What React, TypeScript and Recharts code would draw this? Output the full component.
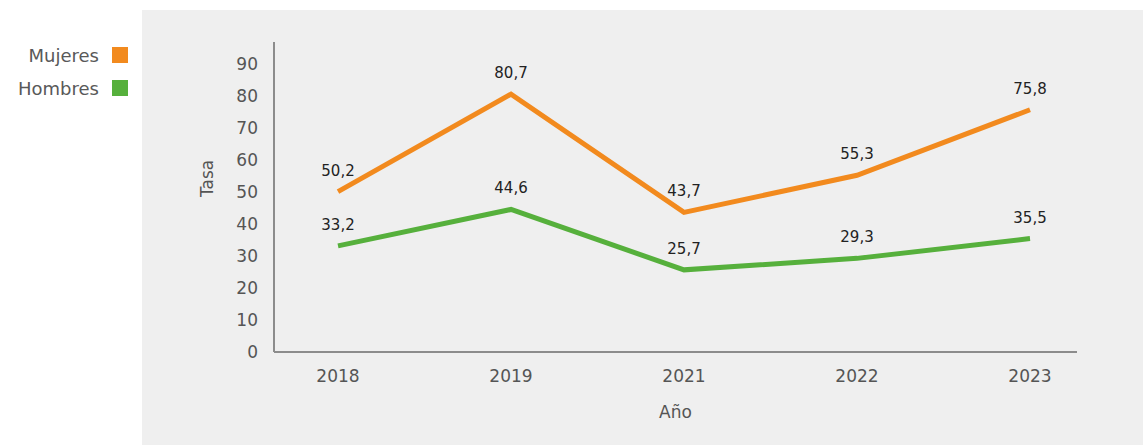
import { LineChart, Line, XAxis, YAxis, Legend, LabelList } from "recharts";

const years = ["2018", "2019", "2021", "2022", "2023"];
const mujeres = [50.2, 80.7, 43.7, 55.3, 75.8];
const hombres = [33.2, 44.6, 25.7, 29.3, 35.5];
const yTicks = [0, 10, 20, 30, 40, 50, 60, 70, 80, 90];

const ORANGE = "#F28A1E";
const GREEN = "#56B03C";
const FONT = "'DejaVu Sans', sans-serif";

const seriesList = [
  { key: "mujeres", name: "Mujeres", color: ORANGE },
  { key: "hombres", name: "Hombres", color: GREEN },
];

const data = years.map((year, i) => ({
  year,
  mujeres: mujeres[i],
  hombres: hombres[i],
}));

const fmt = (v: any) => String(v).replace(".", ",");

function LegendBox() {
  return (
    <div style={{ display: "flex", flexDirection: "column", alignItems: "flex-end", gap: 9 }}>
      {seriesList.map((s) => (
        <div key={s.key} style={{ display: "flex", alignItems: "center", height: 24 }}>
          <span style={{ fontFamily: FONT, fontSize: 18, color: "#595959", marginRight: 13 }}>{s.name}</span>
          <span style={{ width: 16, height: 16, background: s.color, display: "inline-block" }} />
        </div>
      ))}
    </div>
  );
}

export default function App() {
  return (
    <div style={{ position: "absolute", left: 0, top: 0, width: 1143, height: 445, background: "#fff", overflow: "hidden" }}>
      <div style={{ position: "absolute", left: 142, top: 10, width: 1001, height: 435, background: "#EFEFEF" }} />
      <div style={{ position: "absolute", left: 0, top: 0 }}>
        <LineChart width={1143} height={445} data={data} margin={{ top: 42, right: 66, bottom: 23, left: 204 }}>
          <Legend
            layout="horizontal"
            align="center"
            verticalAlign="middle"
            content={() => <LegendBox />}
            wrapperStyle={{ left: 0, top: 43, width: 128 }}
          />
          <XAxis
            dataKey="year"
            padding={{ left: 64, right: 47 }}
            height={70}
            tickLine={false}
            tickSize={6}
            tickMargin={12}
            axisLine={{ stroke: "#8C8C8C", strokeWidth: 2 }}
            tick={{ fill: "#555", fontSize: 17, fontFamily: FONT }}
            label={{ value: "Año", position: "insideBottom", offset: 4, fill: "#555", fontSize: 17, fontFamily: FONT }}
          />
          <YAxis
            width={70}
            domain={[0, 97]}
            ticks={yTicks}
            interval={0}
            tickLine={false}
            tickSize={6}
            tickMargin={10}
            axisLine={{ stroke: "#8C8C8C", strokeWidth: 2 }}
            tick={{ fill: "#555", fontSize: 17, fontFamily: FONT }}
            label={{ value: "Tasa", angle: -90, position: "insideLeft", offset: 3, fill: "#555", fontSize: 17, fontFamily: FONT }}
          />
          {seriesList.map((s) => (
            <Line
              key={s.key}
              type="linear"
              dataKey={s.key}
              name={s.name}
              stroke={s.color}
              strokeWidth={5}
              dot={false}
              activeDot={false}
              isAnimationActive={false}
            >
              <LabelList
                dataKey={s.key}
                position="top"
                offset={16}
                formatter={fmt}
                style={{ fill: "#222", fontSize: 15, fontFamily: FONT }}
              />
            </Line>
          ))}
        </LineChart>
      </div>
    </div>
  );
}
